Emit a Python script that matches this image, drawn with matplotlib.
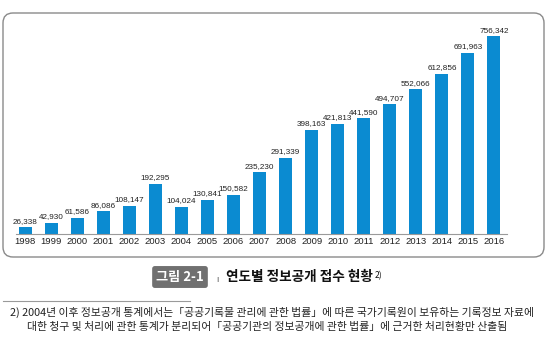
import matplotlib.pyplot as plt
from matplotlib.patches import FancyBboxPatch
import numpy as np

plt.rcParams['font.family'] = ['Noto Sans CJK KR', 'DejaVu Sans']

years = ['1998', '1999', '2000', '2001', '2002', '2003', '2004', '2005', '2006', '2007',
         '2008', '2009', '2010', '2011', '2012', '2013', '2014', '2015', '2016']
counts = [26338, 42930, 61586, 86086, 108147, 192295, 104024, 130841, 150582, 235230,
          291339, 398163, 421813, 441590, 494707, 552066, 612856, 691963, 756342]

num_font = ['Liberation Sans Narrow', 'Liberation Sans', 'DejaVu Sans']

fig = plt.figure(figsize=(5.5, 3.43), dpi=100)

# rounded frame around the chart
frame = FancyBboxPatch((0.03, 0.86), 5.41, 2.44, boxstyle='round,pad=0,rounding_size=0.1',
                       transform=fig.dpi_scale_trans, facecolor='none',
                       edgecolor='#8a8a8a', linewidth=1.0, zorder=-1)
fig.patches.append(frame)

ax = fig.add_axes([16 / 550, (343 - 234) / 343, (507 - 16) / 550, 209.5 / 343])
x = np.arange(len(years))
ax.bar(x, counts, width=0.5, color='#0b8bd1')
for xi, v in zip(x, counts):
    ax.text(xi, v + 9000, f'{v:,}', ha='center', va='bottom', fontsize=5.9,
            family=num_font, color='#222222')

ax.set_xlim(-0.35, 18.5)
ax.set_ylim(0, 800000)
ax.set_xticks(x)
ax.set_xticklabels(years, fontsize=6.8, family=num_font, color='#222222')
ax.tick_params(axis='x', length=0, pad=2.5)
ax.set_yticks([])
for s in ['top', 'left', 'right']:
    ax.spines[s].set_visible(False)
ax.spines['bottom'].set_color('#9a9a9a')
ax.patch.set_alpha(0)

# caption
fig.text(180 / 550, 1 - 277 / 343, '그림 2-1', ha='center', va='center', fontsize=9.5,
         color='white', fontweight='bold',
         bbox=dict(boxstyle='round,pad=0.3,rounding_size=0.2', facecolor='#707070', edgecolor='none'))
fig.text(216 / 550, 1 - 279 / 343, 'ı', ha='left', va='center', fontsize=6, color='#555555',
         family=['DejaVu Sans'])
title = fig.text(226 / 550, 1 - 277 / 343, '연도별 정보공개 접수 현황', ha='left', va='center',
                 fontsize=9.8, fontweight='bold', color='#111111')
ax.annotate('2)', xy=(1, 0.95), xycoords=title, xytext=(1, 0), textcoords='offset points',
            ha='left', va='top', fontsize=6.2, color='#111111', annotation_clip=False)

# footnote
fig.add_artist(plt.Line2D([3 / 550, 190 / 550], [1 - 301 / 343, 1 - 301 / 343],
                          color='#9a9a9a', linewidth=0.8))
fig.text(10 / 550, 1 - 312 / 343,
         '2) 2004년 이후 정보공개 통계에서는「공공기록물 관리에 관한 법률」에 따른 국가기록원이 보유하는 기록정보 자료에',
         ha='left', va='center', fontsize=7.8, color='#222222')
fig.text(27 / 550, 1 - 327 / 343,
         '대한 청구 및 처리에 관한 통계가 분리되어「공공기관의 정보공개에 관한 법률」에 근거한 처리현황만 산출됨',
         ha='left', va='center', fontsize=7.8, color='#222222')

fig.savefig('out.png', dpi=100)
